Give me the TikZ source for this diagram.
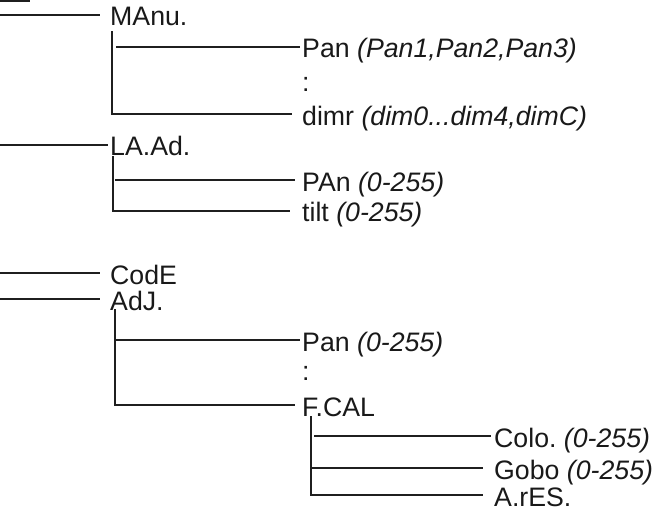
\documentclass[tikz,border=0pt]{standalone}
\usepackage{fontspec}
\setmainfont{Liberation Sans}
\frenchspacing
\tikzset{
        menu/.style = {anchor=west, inner sep=0pt, text height=22pt, text depth=0pt,
            text=black!90, font=\fontsize{26.7}{26.7}\selectfont},
        lnk/.style = {line width=2.6pt, draw=black!88},
        rootbox/.style = {draw=black!88, line width=1.6pt, fill=black!4,
            anchor=south east, minimum width=50pt, minimum height=20pt}
    }
\begin{document}
\begin{tikzpicture}[x=1pt,y=-1pt]
    \useasboundingbox (0,0) rectangle (657,511);
    \node [rootbox] (root) at (30,2) {}; % cut off at the edge
    \coordinate (trunk) at (0,0);
    % first level
    \node [menu] (manu) at (110,15) {MAnu.};
    \node [menu] (laad) at (110,145) {LA.Ad.};
    \node [menu] (code) at (110,273) {CodE};
    \node [menu] (adj) at (110,299) {AdJ.};
    % second level
    \node [menu] (pan) at (302,47) {Pan \textit{(Pan1,Pan2,Pan3)}};
    \node [menu] (dots1) at (302,81) {:};
    \node [menu] (dimr) at (302,114) {dimr \textit{(dim0...dim4,dimC)}};
    \node [menu] (pant) at (302,180) {PAn \textit{(0-255)}};
    \node [menu] (tilt) at (302,211) {tilt \textit{(0-255)}};
    \node [menu] (pana) at (302,340) {Pan \textit{(0-255)}};
    \node [menu] (dots2) at (302,369) {:};
    \node [menu] (fcal) at (302,405) {F.CAL};
    % third level
    \node [menu] (colo) at (494,436) {Colo. \textit{(0-255)}};
    \node [menu] (gobo) at (494,468) {Gobo \textit{(0-255)}};
    \node [menu] (ares) at (494,495) {A.rES.};

    \draw [lnk] (trunk |- manu.west) -- ([xshift=-10pt]manu.west);
    \draw [lnk] (trunk |- laad.west) -- ([xshift=-2pt]laad.west);
    \draw [lnk] (trunk |- code.west) -- ([xshift=-10pt]code.west);
    \draw [lnk] (trunk |- adj.west) -- ([xshift=-10pt]adj.west);

    \draw [lnk] ([xshift=2pt,yshift=-5pt]manu.south west) |- ([xshift=-10pt]dimr.west);
    \draw [lnk] ([xshift=6pt]manu.south west |- pan.west) -- ([xshift=-2pt]pan.west);

    \draw [lnk] ([xshift=3pt]laad.south west) |- ([xshift=-12pt]tilt.west);
    \draw [lnk] ([xshift=5pt]laad.south west |- pant.west) -- ([xshift=-7pt]pant.west);

    \draw [lnk] ([xshift=5pt,yshift=1pt]adj.south west) |- ([xshift=-7pt]fcal.west);
    \draw [lnk] ([xshift=5pt]adj.south west |- pana.west) -- ([xshift=-2pt]pana.west);

    \draw [lnk] ([xshift=9pt]fcal.south west) |- ([xshift=-11pt]ares.west);
    \draw [lnk] ([xshift=12pt]fcal.south west |- colo.west) -- ([xshift=-3pt]colo.west);
    \draw [lnk] ([xshift=9pt]fcal.south west |- gobo.west) -- ([xshift=-11pt]gobo.west);
\end{tikzpicture}
\end{document}
